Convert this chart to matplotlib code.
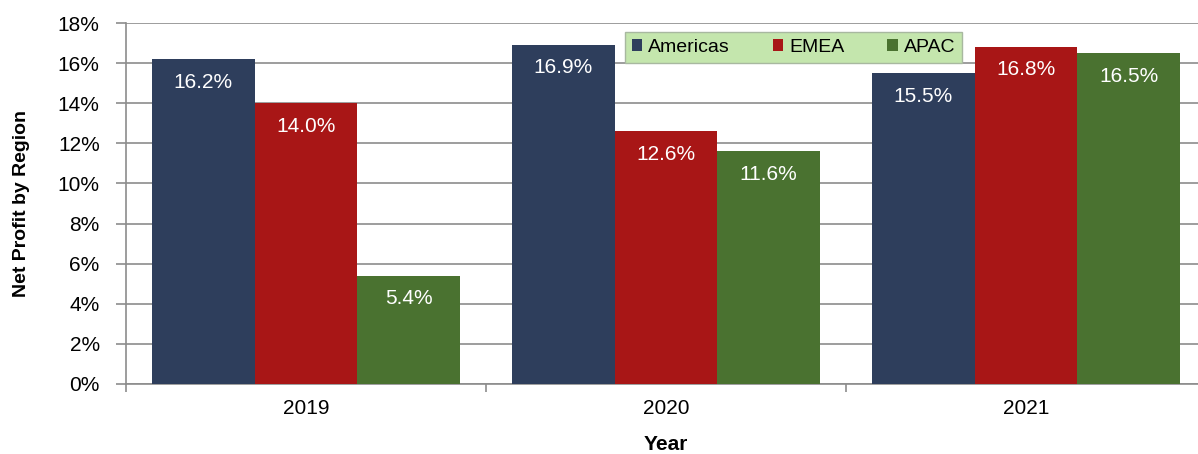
import matplotlib.pyplot as plt
import numpy as np

plt.rcParams['font.family'] = ['Liberation Sans', 'DejaVu Sans']

years = ['2019', '2020', '2021']
regions = ['Americas', 'EMEA', 'APAC']
americas = [16.2, 16.9, 15.5]
emea = [14.0, 12.6, 16.8]
apac = [5.4, 11.6, 16.5]
colors = ['#2e3e5c', '#a81616', '#4a7230']

fig = plt.figure(figsize=(11.98, 4.54), dpi=100)
ax = fig.add_axes([0.1052, 0.1542, 0.9015, 0.7951])

x = np.arange(len(years))
width = 0.285
for i, (vals, name, col) in enumerate(zip([americas, emea, apac], regions, colors)):
    pos = x + (i - 1) * width
    ax.bar(pos, vals, width, color=col, label=name, zorder=3)
    for px, v in zip(pos, vals):
        ax.annotate(f'{v:.1f}%', (px, v), xytext=(0, -16.5), textcoords='offset points',
                    ha='center', va='center', color='white', fontsize=15, zorder=4)

ax.set_xlim(-0.5, 2.5)
ax.set_ylim(0, 18)
ax.set_yticks(np.arange(0, 19, 2))
ax.set_yticklabels([f'{t}%' for t in range(0, 19, 2)], fontsize=15)
ax.set_xticks(x)
ax.set_xticklabels(years, fontsize=15)
ax.set_xticks([-0.5, 0.5, 1.5, 2.5], minor=True)
ax.tick_params(axis='x', which='major', length=0, pad=11)
ax.tick_params(axis='x', which='minor', length=6, color='#8c8c8c', width=1.2)
ax.tick_params(axis='y', length=7, color='#8c8c8c', width=1.2, pad=12)
ax.grid(axis='y', color='#8c8c8c', linewidth=1.2, zorder=0)

for side in ['top', 'right']:
    ax.spines[side].set_visible(False)
for side in ['left', 'bottom']:
    ax.spines[side].set_color('#8c8c8c')
    ax.spines[side].set_linewidth(1.2)

ax.set_ylabel('Net Profit by Region', fontsize=14, fontweight='bold', labelpad=20)
ax.set_xlabel('Year', fontsize=15, fontweight='bold', labelpad=12)

# legend stretched to a fixed width box near the top centre
leg = ax.legend(loc='upper left', bbox_to_anchor=(0.462, 0.975, 0.312, 0.0), mode='expand',
                ncol=3, fontsize=14, frameon=True, fancybox=False,
                handlelength=0.55, handleheight=0.55, handletextpad=0.3,
                columnspacing=1.4, borderpad=0.35, borderaxespad=0)
leg.get_frame().set_facecolor('#c4e6ad')
leg.get_frame().set_edgecolor('#a8b8a0')
leg.get_frame().set_alpha(1)
leg.set_zorder(5)

fig.savefig('out.png', dpi=100)
